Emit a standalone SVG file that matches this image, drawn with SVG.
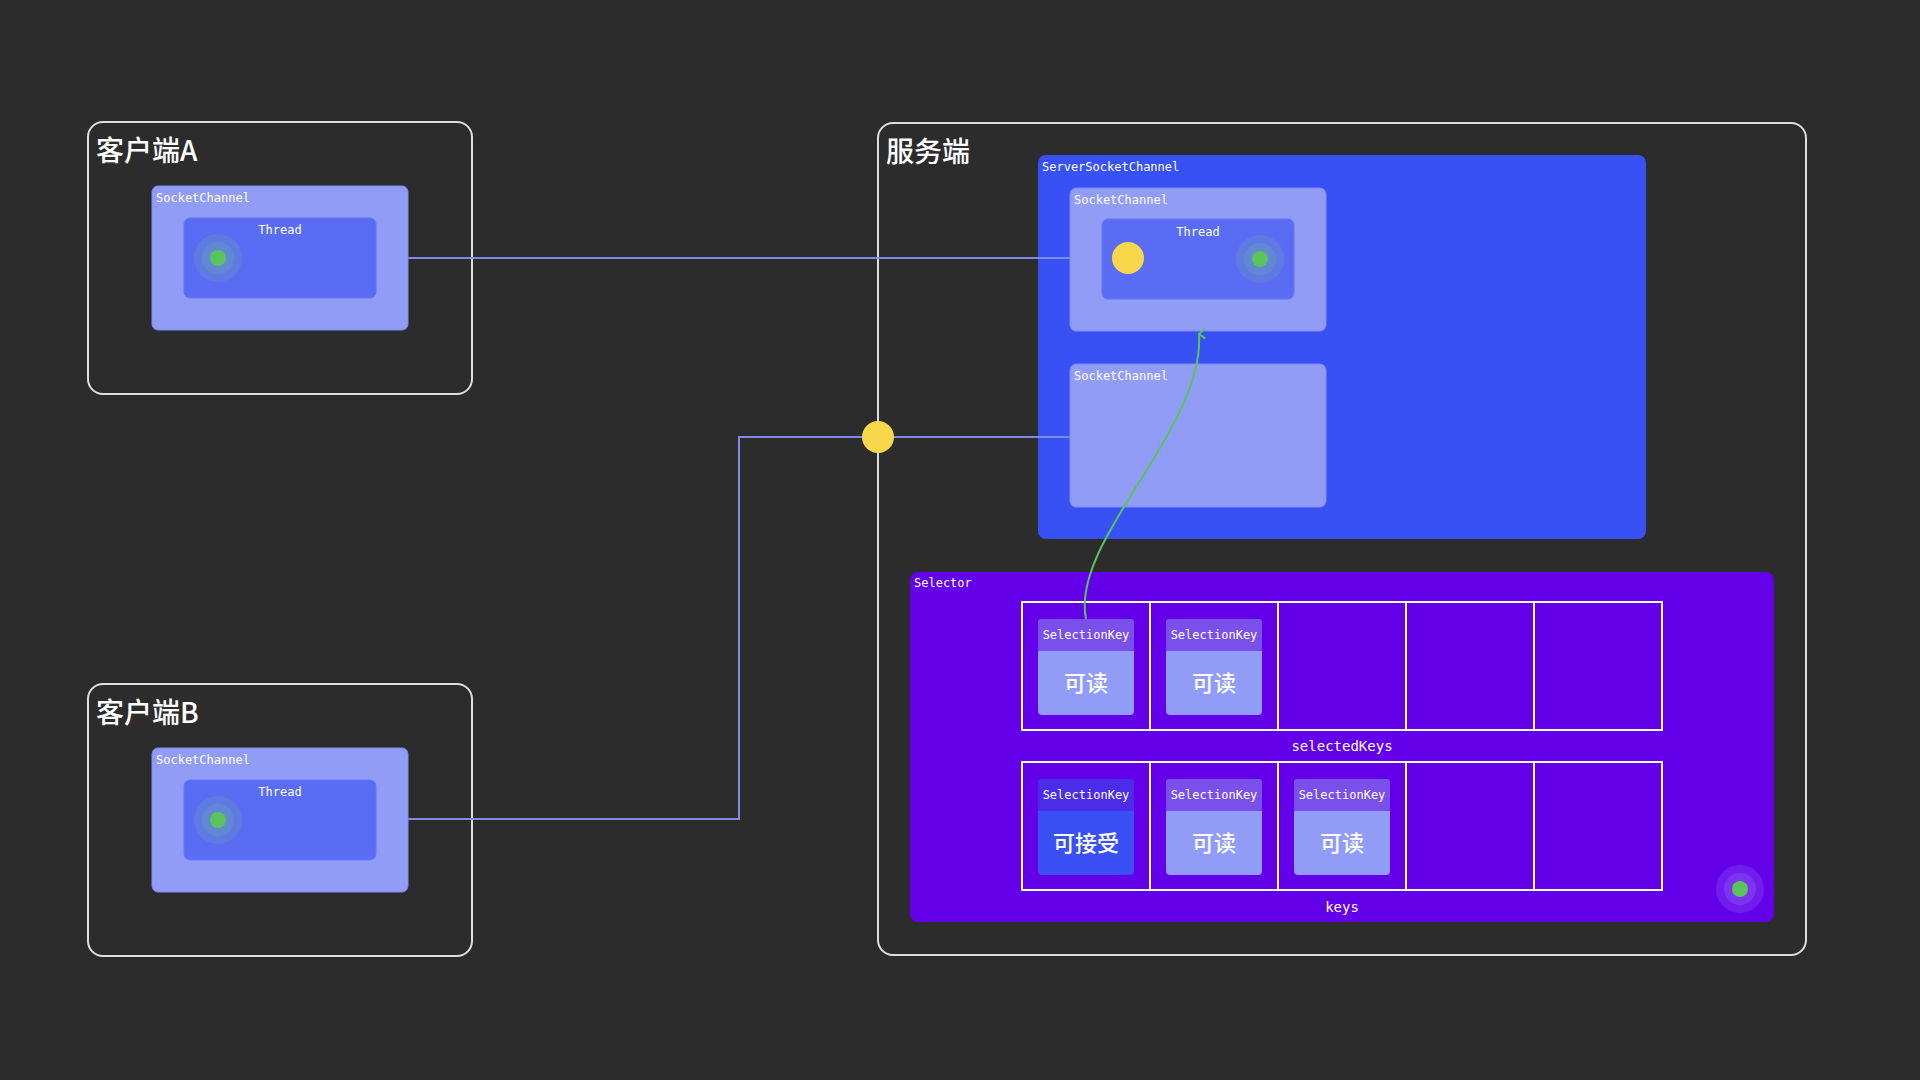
<svg xmlns="http://www.w3.org/2000/svg" width="1920" height="1080" viewBox="0 0 1920 1080">
<defs>
<style>
.frame{fill:none;stroke:#dedede;stroke-width:2}
.title{font-family:"Noto Sans CJK SC","Noto Sans",sans-serif;font-size:28px;font-weight:500;fill:#ffffff}
.mono{font-family:"DejaVu Sans Mono","Liberation Mono",monospace;font-size:12px;fill:#ffffff}
.mono14{font-family:"DejaVu Sans Mono","Liberation Mono",monospace;font-size:14px;fill:#ffffff}
.sc{fill:#919cf7;stroke:#7f8bee;stroke-width:1}
.thread{fill:#5a6cf4;stroke:#6577f5;stroke-width:1}
.cell{fill:none;stroke:#ffffff;stroke-width:2}
.khead{fill:#7b4fea}
.kbody{fill:#919cf7}
.ahead{fill:#4b2ce8}
.abody{fill:#3a50f5}
.cjk{font-family:"Noto Sans CJK SC","Noto Sans",sans-serif;font-size:22px;font-weight:500;fill:#ffffff}
.wire{fill:none;stroke:#7f8be8;stroke-width:2}
.yellow{fill:#f8d74a}
.green{fill:#5ac35a}
.ring{fill:#7fd08a;opacity:0.16}
</style>
<marker id="arr" viewBox="0 0 12 12" refX="6" refY="2" markerWidth="12" markerHeight="12" markerUnits="userSpaceOnUse" orient="auto-start-reverse">
<path d="M1,8 L6,2 L11,8" fill="none" stroke="#5ac35a" stroke-width="2"/>
</marker>
</defs>
<rect x="0" y="0" width="1920" height="1080" fill="#2c2c2c"/>

<g id="clientA">
<rect class="frame" x="88" y="122" width="384" height="272" rx="15"/>
<text class="title" x="96" y="161">客户端A</text>
<rect class="sc" x="152" y="186" width="256" height="144" rx="6"/>
<text class="mono" x="156" y="202">SocketChannel</text>
<rect class="thread" x="184" y="218" width="192" height="80" rx="6"/>
<text class="mono" x="280" y="234" text-anchor="middle">Thread</text>
<circle class="ring" cx="218" cy="258" r="24"/>
<circle class="ring" cx="218" cy="258" r="16"/>
<circle class="green" cx="218" cy="258" r="8"/>
</g>

<g id="clientB">
<rect class="frame" x="88" y="684" width="384" height="272" rx="15"/>
<text class="title" x="96" y="723">客户端B</text>
<rect class="sc" x="152" y="748" width="256" height="144" rx="6"/>
<text class="mono" x="156" y="764">SocketChannel</text>
<rect class="thread" x="184" y="780" width="192" height="80" rx="6"/>
<text class="mono" x="280" y="796" text-anchor="middle">Thread</text>
<circle class="ring" cx="218" cy="820" r="24"/>
<circle class="ring" cx="218" cy="820" r="16"/>
<circle class="green" cx="218" cy="820" r="8"/>
</g>

<g id="server">
<rect class="frame" x="878" y="123" width="928" height="832" rx="15"/>
<text class="title" x="886" y="162">服务端</text>
</g>

<g id="serverSocketChannel">
<rect x="1038" y="155" width="608" height="384" rx="8" fill="#3851f5"/>
<text class="mono" x="1042" y="171">ServerSocketChannel</text>
</g>

<g id="serverSocketChannel1">
<rect class="sc" x="1070" y="188" width="256" height="143" rx="6"/>
<text class="mono" x="1074" y="204">SocketChannel</text>
<rect class="thread" x="1102" y="219" width="192" height="80" rx="6"/>
<text class="mono" x="1198" y="236" text-anchor="middle">Thread</text>
<circle class="yellow" cx="1128" cy="258" r="16"/>
<circle class="ring" cx="1260" cy="259" r="24"/>
<circle class="ring" cx="1260" cy="259" r="16"/>
<circle class="green" cx="1260" cy="259" r="8"/>
</g>

<g id="serverSocketChannel2">
<rect class="sc" x="1070" y="364" width="256" height="143" rx="6"/>
<text class="mono" x="1074" y="380">SocketChannel</text>
</g>

<g id="selector">
<rect x="910" y="572" width="864" height="350" rx="8" fill="#6300e9"/>
<text class="mono" x="914" y="587">Selector</text>
<circle class="ring" cx="1740" cy="889" r="24" style="fill:#b0a0ff;opacity:0.18"/>
<circle class="ring" cx="1740" cy="889" r="16" style="fill:#b0a0ff;opacity:0.18"/>
<circle class="green" cx="1740" cy="889" r="8"/>
</g>

<g id="selectedKeys">
<rect class="cell" x="1022" y="602" width="128" height="128"/>
<rect class="cell" x="1150" y="602" width="128" height="128"/>
<rect class="cell" x="1278" y="602" width="128" height="128"/>
<rect class="cell" x="1406" y="602" width="128" height="128"/>
<rect class="cell" x="1534" y="602" width="128" height="128"/>
<text class="mono14" x="1342" y="751" text-anchor="middle">selectedKeys</text>
</g>

<g id="sk1">
<rect class="kbody" x="1038" y="619" width="96" height="96" rx="4"/>
<path class="khead" d="M1042,619 H1130 A4,4 0 0 1 1134,623 V651 H1038 V623 A4,4 0 0 1 1042,619 Z"/>
<text class="mono" x="1086" y="639" text-anchor="middle">SelectionKey</text>
<text class="cjk" x="1086" y="691" text-anchor="middle">可读</text>
</g>
<g id="sk2">
<rect class="kbody" x="1166" y="619" width="96" height="96" rx="4"/>
<path class="khead" d="M1170,619 H1258 A4,4 0 0 1 1262,623 V651 H1166 V623 A4,4 0 0 1 1170,619 Z"/>
<text class="mono" x="1214" y="639" text-anchor="middle">SelectionKey</text>
<text class="cjk" x="1214" y="691" text-anchor="middle">可读</text>
</g>

<g id="keys">
<rect class="cell" x="1022" y="762" width="128" height="128"/>
<rect class="cell" x="1150" y="762" width="128" height="128"/>
<rect class="cell" x="1278" y="762" width="128" height="128"/>
<rect class="cell" x="1406" y="762" width="128" height="128"/>
<rect class="cell" x="1534" y="762" width="128" height="128"/>
<text class="mono14" x="1342" y="912" text-anchor="middle">keys</text>
</g>

<g id="k1">
<rect class="abody" x="1038" y="779" width="96" height="96" rx="4"/>
<path class="ahead" d="M1042,779 H1130 A4,4 0 0 1 1134,783 V811 H1038 V783 A4,4 0 0 1 1042,779 Z"/>
<text class="mono" x="1086" y="799" text-anchor="middle">SelectionKey</text>
<text class="cjk" x="1086" y="851" text-anchor="middle">可接受</text>
</g>
<g id="k2">
<rect class="kbody" x="1166" y="779" width="96" height="96" rx="4"/>
<path class="khead" d="M1170,779 H1258 A4,4 0 0 1 1262,783 V811 H1166 V783 A4,4 0 0 1 1170,779 Z"/>
<text class="mono" x="1214" y="799" text-anchor="middle">SelectionKey</text>
<text class="cjk" x="1214" y="851" text-anchor="middle">可读</text>
</g>
<g id="k3">
<rect class="kbody" x="1294" y="779" width="96" height="96" rx="4"/>
<path class="khead" d="M1298,779 H1386 A4,4 0 0 1 1390,783 V811 H1294 V783 A4,4 0 0 1 1298,779 Z"/>
<text class="mono" x="1342" y="799" text-anchor="middle">SelectionKey</text>
<text class="cjk" x="1342" y="851" text-anchor="middle">可读</text>
</g>

<g id="connectors">
<path class="wire" d="M408,258 H1070"/>
<path class="wire" d="M408,819 H739 V437 H1070"/>
<circle class="yellow" cx="878" cy="437" r="16"/>
<path d="M1086,619 C1070,540 1205,430 1199,334" fill="none" stroke="#5ac35a" stroke-width="2" marker-end="url(#arr)"/>
</g>
</svg>
